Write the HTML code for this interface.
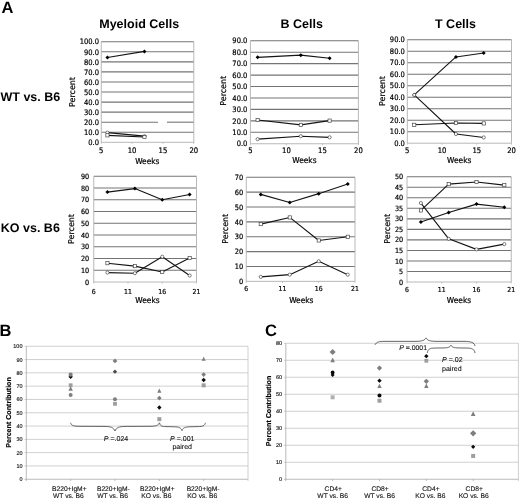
<!DOCTYPE html>
<html lang="en"><head><meta charset="utf-8"><title>Figure</title>
<style>
html,body{margin:0;padding:0;background:#fff;}
body{width:520px;height:500px;overflow:hidden;}
svg{display:block;will-change:transform;text-rendering:geometricPrecision;filter:blur(0.3px);}
.ax{font-family:"DejaVu Sans Condensed", "DejaVu Sans", "Liberation Sans", sans-serif;fill:#000;stroke:#000;stroke-width:0.2px;}
.axr{font-family:"DejaVu Sans", "Liberation Sans", sans-serif;fill:#000;stroke:#000;stroke-width:0.2px;}
.tk{font-family:"DejaVu Sans Condensed", "DejaVu Sans", "Liberation Sans", sans-serif;fill:#000;stroke:#000;stroke-width:0.2px;}
.tt{font-family:"Liberation Sans", Arial, sans-serif;font-size:12.5px;font-weight:bold;fill:#000;}
.pl{font-family:"Liberation Sans", Arial, sans-serif;font-size:16.5px;font-weight:bold;fill:#000;}
.sm{font-family:"Liberation Sans", Arial, sans-serif;font-size:6.7px;fill:#111;stroke:#111;stroke-width:0.12px;}
.st{font-family:"Liberation Sans", Arial, sans-serif;font-size:5.5px;fill:#111;stroke:#111;stroke-width:0.14px;}
.smb{font-family:"Liberation Sans", Arial, sans-serif;font-size:7.1px;font-weight:bold;fill:#000;stroke:#000;stroke-width:0.18px;}
.pv{font-family:"Liberation Sans", Arial, sans-serif;font-size:7.05px;fill:#111;stroke:#111;stroke-width:0.1px;}
</style></head><body>
<svg width="520" height="500" viewBox="0 0 520 500">
<rect width="520" height="500" fill="#fff"/>
<text x="1.5" y="13" class="pl">A</text>
<text x="139.2" y="28" text-anchor="middle" class="tt">Myeloid Cells</text>
<text x="301.7" y="28" text-anchor="middle" class="tt">B Cells</text>
<text x="455.5" y="28" text-anchor="middle" class="tt">T Cells</text>
<text x="0.5" y="100.6" class="tt">WT vs. B6</text>
<text x="0.8" y="232.2" class="tt">KO vs. B6</text>
<line x1="101.25" y1="132.25" x2="193.80" y2="132.25" stroke="#747474" stroke-width="1.1"/>
<line x1="101.25" y1="122.19" x2="158.00" y2="122.19" stroke="#747474" stroke-width="1.1"/>
<line x1="167.00" y1="122.19" x2="193.80" y2="122.19" stroke="#747474" stroke-width="1.1"/>
<line x1="101.25" y1="112.14" x2="193.80" y2="112.14" stroke="#747474" stroke-width="1.1"/>
<line x1="101.25" y1="102.08" x2="193.80" y2="102.08" stroke="#747474" stroke-width="1.1"/>
<line x1="101.25" y1="92.03" x2="193.80" y2="92.03" stroke="#747474" stroke-width="1.1"/>
<line x1="101.25" y1="81.97" x2="193.80" y2="81.97" stroke="#747474" stroke-width="1.1"/>
<line x1="101.25" y1="71.92" x2="193.80" y2="71.92" stroke="#747474" stroke-width="1.1"/>
<line x1="101.25" y1="61.86" x2="193.80" y2="61.86" stroke="#747474" stroke-width="1.1"/>
<line x1="101.25" y1="51.81" x2="193.80" y2="51.81" stroke="#747474" stroke-width="1.1"/>
<line x1="101.25" y1="41.75" x2="193.80" y2="41.75" stroke="#747474" stroke-width="1.1"/>
<path d="M101.25 41.75V142.30H193.80V41.75" fill="none" stroke="#b0b0b0" stroke-width="0.9"/>
<line x1="101.25" y1="142.30" x2="101.25" y2="143.90" stroke="#b0b0b0" stroke-width="0.7"/>
<line x1="132.10" y1="142.30" x2="132.10" y2="143.90" stroke="#b0b0b0" stroke-width="0.7"/>
<line x1="162.95" y1="142.30" x2="162.95" y2="143.90" stroke="#b0b0b0" stroke-width="0.7"/>
<line x1="193.80" y1="142.30" x2="193.80" y2="143.90" stroke="#b0b0b0" stroke-width="0.7"/>
<text x="98.95" y="145.00" text-anchor="end" class="tk" font-size="7.5">0.0</text>
<text x="98.95" y="134.94" text-anchor="end" class="tk" font-size="7.5">10.0</text>
<text x="98.95" y="124.89" text-anchor="end" class="tk" font-size="7.5">20.0</text>
<text x="98.95" y="114.84" text-anchor="end" class="tk" font-size="7.5">30.0</text>
<text x="98.95" y="104.78" text-anchor="end" class="tk" font-size="7.5">40.0</text>
<text x="98.95" y="94.73" text-anchor="end" class="tk" font-size="7.5">50.0</text>
<text x="98.95" y="84.67" text-anchor="end" class="tk" font-size="7.5">60.0</text>
<text x="98.95" y="74.62" text-anchor="end" class="tk" font-size="7.5">70.0</text>
<text x="98.95" y="64.56" text-anchor="end" class="tk" font-size="7.5">80.0</text>
<text x="98.95" y="54.51" text-anchor="end" class="tk" font-size="7.5">90.0</text>
<text x="98.95" y="44.45" text-anchor="end" class="tk" font-size="7.5">100.0</text>
<text x="101.25" y="152.74" text-anchor="middle" class="tk" font-size="7.6">5</text>
<text x="132.10" y="152.74" text-anchor="middle" class="tk" font-size="7.6">10</text>
<text x="162.95" y="152.74" text-anchor="middle" class="tk" font-size="7.6">15</text>
<text x="193.80" y="152.74" text-anchor="middle" class="tk" font-size="7.6">20</text>
<text transform="translate(74.65 92.00) rotate(-90)" text-anchor="middle" class="axr" font-size="8.1" textLength="29.8" lengthAdjust="spacingAndGlyphs">Percent</text>
<text x="147.30" y="163.50" text-anchor="middle" class="axr" font-size="8.1" textLength="24.3" lengthAdjust="spacingAndGlyphs">Weeks</text>
<polyline points="107.42,57.54 144.44,51.40" fill="none" stroke="#141414" stroke-width="1.1" stroke-linejoin="round"/>
<polyline points="107.42,132.65 144.44,136.17" fill="none" stroke="#141414" stroke-width="1.1" stroke-linejoin="round"/>
<polyline points="107.42,135.36 144.44,137.07" fill="none" stroke="#141414" stroke-width="1.1" stroke-linejoin="round"/>
<path d="M107.42 55.54L109.42 57.54L107.42 59.54L105.42 57.54Z" fill="#000"/>
<path d="M144.44 49.40L146.44 51.40L144.44 53.40L142.44 51.40Z" fill="#000"/>
<circle cx="107.42" cy="132.65" r="1.6" fill="#fff" stroke="#3a3a3a" stroke-width="0.65"/>
<circle cx="144.44" cy="136.17" r="1.6" fill="#fff" stroke="#3a3a3a" stroke-width="0.65"/>
<rect x="105.82" y="133.76" width="3.2" height="3.2" fill="#fff" stroke="#3a3a3a" stroke-width="0.65"/>
<rect x="142.84" y="135.47" width="3.2" height="3.2" fill="#fff" stroke="#3a3a3a" stroke-width="0.65"/>
<line x1="250.40" y1="132.31" x2="358.40" y2="132.31" stroke="#747474" stroke-width="1.1"/>
<line x1="250.40" y1="120.86" x2="358.40" y2="120.86" stroke="#747474" stroke-width="1.1"/>
<line x1="250.40" y1="109.42" x2="358.40" y2="109.42" stroke="#747474" stroke-width="1.1"/>
<line x1="250.40" y1="97.97" x2="358.40" y2="97.97" stroke="#747474" stroke-width="1.1"/>
<line x1="250.40" y1="86.53" x2="358.40" y2="86.53" stroke="#747474" stroke-width="1.1"/>
<line x1="250.40" y1="75.08" x2="358.40" y2="75.08" stroke="#747474" stroke-width="1.1"/>
<line x1="250.40" y1="63.64" x2="358.40" y2="63.64" stroke="#747474" stroke-width="1.1"/>
<line x1="250.40" y1="52.19" x2="358.40" y2="52.19" stroke="#747474" stroke-width="1.1"/>
<line x1="250.40" y1="40.75" x2="358.40" y2="40.75" stroke="#747474" stroke-width="1.1"/>
<path d="M250.40 40.75V143.75H358.40V40.75" fill="none" stroke="#b0b0b0" stroke-width="0.9"/>
<line x1="250.40" y1="143.75" x2="250.40" y2="145.35" stroke="#b0b0b0" stroke-width="0.7"/>
<line x1="286.40" y1="143.75" x2="286.40" y2="145.35" stroke="#b0b0b0" stroke-width="0.7"/>
<line x1="322.40" y1="143.75" x2="322.40" y2="145.35" stroke="#b0b0b0" stroke-width="0.7"/>
<line x1="358.40" y1="143.75" x2="358.40" y2="145.35" stroke="#b0b0b0" stroke-width="0.7"/>
<text x="247.40" y="146.45" text-anchor="end" class="tk" font-size="7.5">0.0</text>
<text x="247.40" y="135.01" text-anchor="end" class="tk" font-size="7.5">10.0</text>
<text x="247.40" y="123.56" text-anchor="end" class="tk" font-size="7.5">20.0</text>
<text x="247.40" y="112.12" text-anchor="end" class="tk" font-size="7.5">30.0</text>
<text x="247.40" y="100.67" text-anchor="end" class="tk" font-size="7.5">40.0</text>
<text x="247.40" y="89.23" text-anchor="end" class="tk" font-size="7.5">50.0</text>
<text x="247.40" y="77.78" text-anchor="end" class="tk" font-size="7.5">60.0</text>
<text x="247.40" y="66.34" text-anchor="end" class="tk" font-size="7.5">70.0</text>
<text x="247.40" y="54.89" text-anchor="end" class="tk" font-size="7.5">80.0</text>
<text x="247.40" y="43.45" text-anchor="end" class="tk" font-size="7.5">90.0</text>
<text x="250.40" y="153.04" text-anchor="middle" class="tk" font-size="7.6">5</text>
<text x="286.40" y="153.04" text-anchor="middle" class="tk" font-size="7.6">10</text>
<text x="322.40" y="153.04" text-anchor="middle" class="tk" font-size="7.6">15</text>
<text x="358.40" y="153.04" text-anchor="middle" class="tk" font-size="7.6">20</text>
<text transform="translate(226.35 90.80) rotate(-90)" text-anchor="middle" class="axr" font-size="8.1" textLength="29.8" lengthAdjust="spacingAndGlyphs">Percent</text>
<text x="304.40" y="162.60" text-anchor="middle" class="axr" font-size="8.1" textLength="24.3" lengthAdjust="spacingAndGlyphs">Weeks</text>
<polyline points="257.60,57.34 300.80,55.17 329.60,58.26" fill="none" stroke="#141414" stroke-width="1.1" stroke-linejoin="round"/>
<polyline points="257.60,120.06 300.80,124.87 329.60,120.63" fill="none" stroke="#141414" stroke-width="1.1" stroke-linejoin="round"/>
<polyline points="257.60,139.17 300.80,136.20 329.60,137.34" fill="none" stroke="#141414" stroke-width="1.1" stroke-linejoin="round"/>
<path d="M257.60 55.34L259.60 57.34L257.60 59.34L255.60 57.34Z" fill="#000"/>
<path d="M300.80 53.17L302.80 55.17L300.80 57.17L298.80 55.17Z" fill="#000"/>
<path d="M329.60 56.26L331.60 58.26L329.60 60.26L327.60 58.26Z" fill="#000"/>
<rect x="256.00" y="118.46" width="3.2" height="3.2" fill="#fff" stroke="#3a3a3a" stroke-width="0.65"/>
<rect x="299.20" y="123.27" width="3.2" height="3.2" fill="#fff" stroke="#3a3a3a" stroke-width="0.65"/>
<rect x="328.00" y="119.03" width="3.2" height="3.2" fill="#fff" stroke="#3a3a3a" stroke-width="0.65"/>
<circle cx="257.60" cy="139.17" r="1.6" fill="#fff" stroke="#3a3a3a" stroke-width="0.65"/>
<circle cx="300.80" cy="136.20" r="1.6" fill="#fff" stroke="#3a3a3a" stroke-width="0.65"/>
<circle cx="329.60" cy="137.34" r="1.6" fill="#fff" stroke="#3a3a3a" stroke-width="0.65"/>
<line x1="407.30" y1="131.70" x2="511.50" y2="131.70" stroke="#747474" stroke-width="1.1"/>
<line x1="407.30" y1="120.20" x2="511.50" y2="120.20" stroke="#747474" stroke-width="1.1"/>
<line x1="407.30" y1="108.70" x2="511.50" y2="108.70" stroke="#747474" stroke-width="1.1"/>
<line x1="407.30" y1="97.20" x2="511.50" y2="97.20" stroke="#747474" stroke-width="1.1"/>
<line x1="407.30" y1="85.70" x2="511.50" y2="85.70" stroke="#747474" stroke-width="1.1"/>
<line x1="407.30" y1="74.20" x2="511.50" y2="74.20" stroke="#747474" stroke-width="1.1"/>
<line x1="407.30" y1="62.70" x2="511.50" y2="62.70" stroke="#747474" stroke-width="1.1"/>
<line x1="407.30" y1="51.20" x2="511.50" y2="51.20" stroke="#747474" stroke-width="1.1"/>
<line x1="407.30" y1="39.70" x2="511.50" y2="39.70" stroke="#747474" stroke-width="1.1"/>
<path d="M407.30 39.70V143.20H511.50V39.70" fill="none" stroke="#b0b0b0" stroke-width="0.9"/>
<line x1="407.30" y1="143.20" x2="407.30" y2="144.80" stroke="#b0b0b0" stroke-width="0.7"/>
<line x1="442.03" y1="143.20" x2="442.03" y2="144.80" stroke="#b0b0b0" stroke-width="0.7"/>
<line x1="476.77" y1="143.20" x2="476.77" y2="144.80" stroke="#b0b0b0" stroke-width="0.7"/>
<line x1="511.50" y1="143.20" x2="511.50" y2="144.80" stroke="#b0b0b0" stroke-width="0.7"/>
<text x="404.90" y="145.90" text-anchor="end" class="tk" font-size="7.5">0.0</text>
<text x="404.90" y="134.40" text-anchor="end" class="tk" font-size="7.5">10.0</text>
<text x="404.90" y="122.90" text-anchor="end" class="tk" font-size="7.5">20.0</text>
<text x="404.90" y="111.40" text-anchor="end" class="tk" font-size="7.5">30.0</text>
<text x="404.90" y="99.90" text-anchor="end" class="tk" font-size="7.5">40.0</text>
<text x="404.90" y="88.40" text-anchor="end" class="tk" font-size="7.5">50.0</text>
<text x="404.90" y="76.90" text-anchor="end" class="tk" font-size="7.5">60.0</text>
<text x="404.90" y="65.40" text-anchor="end" class="tk" font-size="7.5">70.0</text>
<text x="404.90" y="53.90" text-anchor="end" class="tk" font-size="7.5">80.0</text>
<text x="404.90" y="42.40" text-anchor="end" class="tk" font-size="7.5">90.0</text>
<text x="407.30" y="153.04" text-anchor="middle" class="tk" font-size="7.6">5</text>
<text x="442.03" y="153.04" text-anchor="middle" class="tk" font-size="7.6">10</text>
<text x="476.77" y="153.04" text-anchor="middle" class="tk" font-size="7.6">15</text>
<text x="511.50" y="153.04" text-anchor="middle" class="tk" font-size="7.6">20</text>
<text transform="translate(385.15 91.00) rotate(-90)" text-anchor="middle" class="axr" font-size="8.1" textLength="29.8" lengthAdjust="spacingAndGlyphs">Percent</text>
<text x="459.20" y="162.60" text-anchor="middle" class="axr" font-size="8.1" textLength="24.3" lengthAdjust="spacingAndGlyphs">Weeks</text>
<polyline points="414.25,94.90 455.93,56.95 483.71,52.92" fill="none" stroke="#141414" stroke-width="1.1" stroke-linejoin="round"/>
<polyline points="414.25,94.90 455.93,134.00 483.71,137.45" fill="none" stroke="#141414" stroke-width="1.1" stroke-linejoin="round"/>
<polyline points="414.25,124.80 455.93,123.07 483.71,123.42" fill="none" stroke="#141414" stroke-width="1.1" stroke-linejoin="round"/>
<path d="M414.25 92.90L416.25 94.90L414.25 96.90L412.25 94.90Z" fill="#000"/>
<path d="M455.93 54.95L457.93 56.95L455.93 58.95L453.93 56.95Z" fill="#000"/>
<path d="M483.71 50.92L485.71 52.92L483.71 54.92L481.71 52.92Z" fill="#000"/>
<circle cx="414.25" cy="94.90" r="1.6" fill="#fff" stroke="#3a3a3a" stroke-width="0.65"/>
<circle cx="455.93" cy="134.00" r="1.6" fill="#fff" stroke="#3a3a3a" stroke-width="0.65"/>
<circle cx="483.71" cy="137.45" r="1.6" fill="#fff" stroke="#3a3a3a" stroke-width="0.65"/>
<rect x="412.65" y="123.20" width="3.2" height="3.2" fill="#fff" stroke="#3a3a3a" stroke-width="0.65"/>
<rect x="454.33" y="121.47" width="3.2" height="3.2" fill="#fff" stroke="#3a3a3a" stroke-width="0.65"/>
<rect x="482.11" y="121.82" width="3.2" height="3.2" fill="#fff" stroke="#3a3a3a" stroke-width="0.65"/>
<line x1="93.75" y1="270.25" x2="196.50" y2="270.25" stroke="#747474" stroke-width="1.1"/>
<line x1="93.75" y1="258.50" x2="196.50" y2="258.50" stroke="#747474" stroke-width="1.1"/>
<line x1="93.75" y1="246.75" x2="196.50" y2="246.75" stroke="#747474" stroke-width="1.1"/>
<line x1="93.75" y1="235.00" x2="196.50" y2="235.00" stroke="#747474" stroke-width="1.1"/>
<line x1="93.75" y1="223.25" x2="196.50" y2="223.25" stroke="#747474" stroke-width="1.1"/>
<line x1="93.75" y1="211.50" x2="196.50" y2="211.50" stroke="#747474" stroke-width="1.1"/>
<line x1="93.75" y1="199.75" x2="196.50" y2="199.75" stroke="#747474" stroke-width="1.1"/>
<line x1="93.75" y1="188.00" x2="196.50" y2="188.00" stroke="#747474" stroke-width="1.1"/>
<line x1="93.75" y1="176.25" x2="196.50" y2="176.25" stroke="#747474" stroke-width="1.1"/>
<path d="M93.75 176.25V282.00H196.50V176.25" fill="none" stroke="#b0b0b0" stroke-width="0.9"/>
<line x1="93.75" y1="282.00" x2="93.75" y2="283.60" stroke="#b0b0b0" stroke-width="0.7"/>
<line x1="128.00" y1="282.00" x2="128.00" y2="283.60" stroke="#b0b0b0" stroke-width="0.7"/>
<line x1="162.25" y1="282.00" x2="162.25" y2="283.60" stroke="#b0b0b0" stroke-width="0.7"/>
<line x1="196.50" y1="282.00" x2="196.50" y2="283.60" stroke="#b0b0b0" stroke-width="0.7"/>
<text x="89.15" y="284.59" text-anchor="end" class="tk" font-size="7.2">0</text>
<text x="89.15" y="272.84" text-anchor="end" class="tk" font-size="7.2">10</text>
<text x="89.15" y="261.09" text-anchor="end" class="tk" font-size="7.2">20</text>
<text x="89.15" y="249.34" text-anchor="end" class="tk" font-size="7.2">30</text>
<text x="89.15" y="237.59" text-anchor="end" class="tk" font-size="7.2">40</text>
<text x="89.15" y="225.84" text-anchor="end" class="tk" font-size="7.2">50</text>
<text x="89.15" y="214.09" text-anchor="end" class="tk" font-size="7.2">60</text>
<text x="89.15" y="202.34" text-anchor="end" class="tk" font-size="7.2">70</text>
<text x="89.15" y="190.59" text-anchor="end" class="tk" font-size="7.2">80</text>
<text x="89.15" y="178.84" text-anchor="end" class="tk" font-size="7.2">90</text>
<text x="93.75" y="293.65" text-anchor="middle" class="tk" font-size="6.8">6</text>
<text x="128.00" y="293.65" text-anchor="middle" class="tk" font-size="6.8">11</text>
<text x="162.25" y="293.65" text-anchor="middle" class="tk" font-size="6.8">16</text>
<text x="196.50" y="293.65" text-anchor="middle" class="tk" font-size="6.8">21</text>
<text transform="translate(74.45 229.00) rotate(-90)" text-anchor="middle" class="axr" font-size="8.1" textLength="29.8" lengthAdjust="spacingAndGlyphs">Percent</text>
<text x="147.50" y="303.40" text-anchor="middle" class="axr" font-size="8.1" textLength="24.3" lengthAdjust="spacingAndGlyphs">Weeks</text>
<polyline points="107.45,192.11 134.85,188.59 162.25,199.75 189.65,194.46" fill="none" stroke="#141414" stroke-width="1.1" stroke-linejoin="round"/>
<polyline points="107.45,263.20 134.85,266.14 162.25,272.01 189.65,257.91" fill="none" stroke="#141414" stroke-width="1.1" stroke-linejoin="round"/>
<polyline points="107.45,272.60 134.85,273.19 162.25,256.74 189.65,275.54" fill="none" stroke="#141414" stroke-width="1.1" stroke-linejoin="round"/>
<path d="M107.45 190.11L109.45 192.11L107.45 194.11L105.45 192.11Z" fill="#000"/>
<path d="M134.85 186.59L136.85 188.59L134.85 190.59L132.85 188.59Z" fill="#000"/>
<path d="M162.25 197.75L164.25 199.75L162.25 201.75L160.25 199.75Z" fill="#000"/>
<path d="M189.65 192.46L191.65 194.46L189.65 196.46L187.65 194.46Z" fill="#000"/>
<rect x="105.85" y="261.60" width="3.2" height="3.2" fill="#fff" stroke="#3a3a3a" stroke-width="0.65"/>
<rect x="133.25" y="264.54" width="3.2" height="3.2" fill="#fff" stroke="#3a3a3a" stroke-width="0.65"/>
<rect x="160.65" y="270.41" width="3.2" height="3.2" fill="#fff" stroke="#3a3a3a" stroke-width="0.65"/>
<rect x="188.05" y="256.31" width="3.2" height="3.2" fill="#fff" stroke="#3a3a3a" stroke-width="0.65"/>
<circle cx="107.45" cy="272.60" r="1.6" fill="#fff" stroke="#3a3a3a" stroke-width="0.65"/>
<circle cx="134.85" cy="273.19" r="1.6" fill="#fff" stroke="#3a3a3a" stroke-width="0.65"/>
<circle cx="162.25" cy="256.74" r="1.6" fill="#fff" stroke="#3a3a3a" stroke-width="0.65"/>
<circle cx="189.65" cy="275.54" r="1.6" fill="#fff" stroke="#3a3a3a" stroke-width="0.65"/>
<line x1="246.25" y1="266.49" x2="355.00" y2="266.49" stroke="#747474" stroke-width="1.1"/>
<line x1="246.25" y1="251.62" x2="355.00" y2="251.62" stroke="#747474" stroke-width="1.1"/>
<line x1="246.25" y1="236.76" x2="355.00" y2="236.76" stroke="#747474" stroke-width="1.1"/>
<line x1="246.25" y1="221.89" x2="355.00" y2="221.89" stroke="#747474" stroke-width="1.1"/>
<line x1="246.25" y1="207.03" x2="355.00" y2="207.03" stroke="#747474" stroke-width="1.1"/>
<line x1="246.25" y1="192.16" x2="355.00" y2="192.16" stroke="#747474" stroke-width="1.1"/>
<line x1="246.25" y1="177.30" x2="355.00" y2="177.30" stroke="#747474" stroke-width="1.1"/>
<path d="M246.25 177.30V281.35H355.00V177.30" fill="none" stroke="#b0b0b0" stroke-width="0.9"/>
<line x1="246.25" y1="281.35" x2="246.25" y2="282.95" stroke="#b0b0b0" stroke-width="0.7"/>
<line x1="282.50" y1="281.35" x2="282.50" y2="282.95" stroke="#b0b0b0" stroke-width="0.7"/>
<line x1="318.75" y1="281.35" x2="318.75" y2="282.95" stroke="#b0b0b0" stroke-width="0.7"/>
<line x1="355.00" y1="281.35" x2="355.00" y2="282.95" stroke="#b0b0b0" stroke-width="0.7"/>
<text x="243.15" y="284.01" text-anchor="end" class="tk" font-size="7.4">0</text>
<text x="243.15" y="269.15" text-anchor="end" class="tk" font-size="7.4">10</text>
<text x="243.15" y="254.29" text-anchor="end" class="tk" font-size="7.4">20</text>
<text x="243.15" y="239.42" text-anchor="end" class="tk" font-size="7.4">30</text>
<text x="243.15" y="224.56" text-anchor="end" class="tk" font-size="7.4">40</text>
<text x="243.15" y="209.69" text-anchor="end" class="tk" font-size="7.4">50</text>
<text x="243.15" y="194.83" text-anchor="end" class="tk" font-size="7.4">60</text>
<text x="243.15" y="179.96" text-anchor="end" class="tk" font-size="7.4">70</text>
<text x="246.25" y="291.45" text-anchor="middle" class="tk" font-size="6.8">6</text>
<text x="282.50" y="291.45" text-anchor="middle" class="tk" font-size="6.8">11</text>
<text x="318.75" y="291.45" text-anchor="middle" class="tk" font-size="6.8">16</text>
<text x="355.00" y="291.45" text-anchor="middle" class="tk" font-size="6.8">21</text>
<text transform="translate(228.15 228.75) rotate(-90)" text-anchor="middle" class="axr" font-size="8.1" textLength="29.8" lengthAdjust="spacingAndGlyphs">Percent</text>
<text x="301.30" y="303.30" text-anchor="middle" class="axr" font-size="8.1" textLength="24.3" lengthAdjust="spacingAndGlyphs">Weeks</text>
<polyline points="260.75,194.39 289.75,202.57 318.75,193.65 347.75,183.99" fill="none" stroke="#141414" stroke-width="1.1" stroke-linejoin="round"/>
<polyline points="260.75,224.12 289.75,217.43 318.75,240.47 347.75,236.76" fill="none" stroke="#141414" stroke-width="1.1" stroke-linejoin="round"/>
<polyline points="260.75,276.89 289.75,274.66 318.75,261.28 347.75,274.66" fill="none" stroke="#141414" stroke-width="1.1" stroke-linejoin="round"/>
<path d="M260.75 192.39L262.75 194.39L260.75 196.39L258.75 194.39Z" fill="#000"/>
<path d="M289.75 200.57L291.75 202.57L289.75 204.57L287.75 202.57Z" fill="#000"/>
<path d="M318.75 191.65L320.75 193.65L318.75 195.65L316.75 193.65Z" fill="#000"/>
<path d="M347.75 181.99L349.75 183.99L347.75 185.99L345.75 183.99Z" fill="#000"/>
<rect x="259.15" y="222.52" width="3.2" height="3.2" fill="#fff" stroke="#3a3a3a" stroke-width="0.65"/>
<rect x="288.15" y="215.83" width="3.2" height="3.2" fill="#fff" stroke="#3a3a3a" stroke-width="0.65"/>
<rect x="317.15" y="238.87" width="3.2" height="3.2" fill="#fff" stroke="#3a3a3a" stroke-width="0.65"/>
<rect x="346.15" y="235.16" width="3.2" height="3.2" fill="#fff" stroke="#3a3a3a" stroke-width="0.65"/>
<circle cx="260.75" cy="276.89" r="1.6" fill="#fff" stroke="#3a3a3a" stroke-width="0.65"/>
<circle cx="289.75" cy="274.66" r="1.6" fill="#fff" stroke="#3a3a3a" stroke-width="0.65"/>
<circle cx="318.75" cy="261.28" r="1.6" fill="#fff" stroke="#3a3a3a" stroke-width="0.65"/>
<circle cx="347.75" cy="274.66" r="1.6" fill="#fff" stroke="#3a3a3a" stroke-width="0.65"/>
<line x1="407.00" y1="271.48" x2="511.25" y2="271.48" stroke="#747474" stroke-width="1.1"/>
<line x1="407.00" y1="260.95" x2="511.25" y2="260.95" stroke="#747474" stroke-width="1.1"/>
<line x1="407.00" y1="250.43" x2="511.25" y2="250.43" stroke="#747474" stroke-width="1.1"/>
<line x1="407.00" y1="239.90" x2="511.25" y2="239.90" stroke="#747474" stroke-width="1.1"/>
<line x1="407.00" y1="229.38" x2="511.25" y2="229.38" stroke="#747474" stroke-width="1.1"/>
<line x1="407.00" y1="218.85" x2="511.25" y2="218.85" stroke="#747474" stroke-width="1.1"/>
<line x1="407.00" y1="208.32" x2="511.25" y2="208.32" stroke="#747474" stroke-width="1.1"/>
<line x1="407.00" y1="197.80" x2="511.25" y2="197.80" stroke="#747474" stroke-width="1.1"/>
<line x1="407.00" y1="187.28" x2="511.25" y2="187.28" stroke="#747474" stroke-width="1.1"/>
<line x1="407.00" y1="176.75" x2="511.25" y2="176.75" stroke="#747474" stroke-width="1.1"/>
<path d="M407.00 176.75V282.00H511.25V176.75" fill="none" stroke="#b0b0b0" stroke-width="0.9"/>
<line x1="407.00" y1="282.00" x2="407.00" y2="283.60" stroke="#b0b0b0" stroke-width="0.7"/>
<line x1="441.75" y1="282.00" x2="441.75" y2="283.60" stroke="#b0b0b0" stroke-width="0.7"/>
<line x1="476.50" y1="282.00" x2="476.50" y2="283.60" stroke="#b0b0b0" stroke-width="0.7"/>
<line x1="511.25" y1="282.00" x2="511.25" y2="283.60" stroke="#b0b0b0" stroke-width="0.7"/>
<text x="403.20" y="284.59" text-anchor="end" class="tk" font-size="7.2">0</text>
<text x="403.20" y="274.07" text-anchor="end" class="tk" font-size="7.2">5</text>
<text x="403.20" y="263.54" text-anchor="end" class="tk" font-size="7.2">10</text>
<text x="403.20" y="253.02" text-anchor="end" class="tk" font-size="7.2">15</text>
<text x="403.20" y="242.49" text-anchor="end" class="tk" font-size="7.2">20</text>
<text x="403.20" y="231.97" text-anchor="end" class="tk" font-size="7.2">25</text>
<text x="403.20" y="221.44" text-anchor="end" class="tk" font-size="7.2">30</text>
<text x="403.20" y="210.92" text-anchor="end" class="tk" font-size="7.2">35</text>
<text x="403.20" y="200.39" text-anchor="end" class="tk" font-size="7.2">40</text>
<text x="403.20" y="189.87" text-anchor="end" class="tk" font-size="7.2">45</text>
<text x="403.20" y="179.34" text-anchor="end" class="tk" font-size="7.2">50</text>
<text x="407.00" y="292.05" text-anchor="middle" class="tk" font-size="6.8">6</text>
<text x="441.75" y="292.05" text-anchor="middle" class="tk" font-size="6.8">11</text>
<text x="476.50" y="292.05" text-anchor="middle" class="tk" font-size="6.8">16</text>
<text x="511.25" y="292.05" text-anchor="middle" class="tk" font-size="6.8">21</text>
<text transform="translate(390.15 228.75) rotate(-90)" text-anchor="middle" class="axr" font-size="8.1" textLength="29.8" lengthAdjust="spacingAndGlyphs">Percent</text>
<text x="459.00" y="303.10" text-anchor="middle" class="axr" font-size="8.1" textLength="24.3" lengthAdjust="spacingAndGlyphs">Weeks</text>
<polyline points="420.90,210.43 448.70,184.12 476.50,182.01 504.30,185.17" fill="none" stroke="#141414" stroke-width="1.1" stroke-linejoin="round"/>
<polyline points="420.90,222.01 448.70,212.53 476.50,204.12 504.30,207.27" fill="none" stroke="#141414" stroke-width="1.1" stroke-linejoin="round"/>
<polyline points="420.90,203.06 448.70,238.85 476.50,249.37 504.30,244.11" fill="none" stroke="#141414" stroke-width="1.1" stroke-linejoin="round"/>
<rect x="419.30" y="208.83" width="3.2" height="3.2" fill="#fff" stroke="#3a3a3a" stroke-width="0.65"/>
<rect x="447.10" y="182.52" width="3.2" height="3.2" fill="#fff" stroke="#3a3a3a" stroke-width="0.65"/>
<rect x="474.90" y="180.41" width="3.2" height="3.2" fill="#fff" stroke="#3a3a3a" stroke-width="0.65"/>
<rect x="502.70" y="183.57" width="3.2" height="3.2" fill="#fff" stroke="#3a3a3a" stroke-width="0.65"/>
<path d="M420.90 220.01L422.90 222.01L420.90 224.01L418.90 222.01Z" fill="#000"/>
<path d="M448.70 210.53L450.70 212.53L448.70 214.53L446.70 212.53Z" fill="#000"/>
<path d="M476.50 202.12L478.50 204.12L476.50 206.12L474.50 204.12Z" fill="#000"/>
<path d="M504.30 205.27L506.30 207.27L504.30 209.27L502.30 207.27Z" fill="#000"/>
<circle cx="420.90" cy="203.06" r="1.6" fill="#fff" stroke="#3a3a3a" stroke-width="0.65"/>
<circle cx="448.70" cy="238.85" r="1.6" fill="#fff" stroke="#3a3a3a" stroke-width="0.65"/>
<circle cx="476.50" cy="249.37" r="1.6" fill="#fff" stroke="#3a3a3a" stroke-width="0.65"/>
<circle cx="504.30" cy="244.11" r="1.6" fill="#fff" stroke="#3a3a3a" stroke-width="0.65"/>
<text x="-0.5" y="336" class="pl">B</text>
<line x1="24.50" y1="479.25" x2="248.00" y2="479.25" stroke="#a8a8a8" stroke-width="0.8"/>
<text x="22.50" y="481.25" text-anchor="end" class="st">0</text>
<line x1="24.50" y1="465.95" x2="248.00" y2="465.95" stroke="#c4c4c4" stroke-width="0.8"/>
<text x="22.50" y="467.95" text-anchor="end" class="st">10</text>
<line x1="24.50" y1="452.65" x2="248.00" y2="452.65" stroke="#c4c4c4" stroke-width="0.8"/>
<text x="22.50" y="454.65" text-anchor="end" class="st">20</text>
<line x1="24.50" y1="439.35" x2="248.00" y2="439.35" stroke="#c4c4c4" stroke-width="0.8"/>
<text x="22.50" y="441.35" text-anchor="end" class="st">30</text>
<line x1="24.50" y1="426.05" x2="248.00" y2="426.05" stroke="#c4c4c4" stroke-width="0.8"/>
<text x="22.50" y="428.05" text-anchor="end" class="st">40</text>
<line x1="24.50" y1="412.75" x2="248.00" y2="412.75" stroke="#c4c4c4" stroke-width="0.8"/>
<text x="22.50" y="414.75" text-anchor="end" class="st">50</text>
<line x1="24.50" y1="399.45" x2="248.00" y2="399.45" stroke="#c4c4c4" stroke-width="0.8"/>
<text x="22.50" y="401.45" text-anchor="end" class="st">60</text>
<line x1="24.50" y1="386.15" x2="248.00" y2="386.15" stroke="#c4c4c4" stroke-width="0.8"/>
<text x="22.50" y="388.15" text-anchor="end" class="st">70</text>
<line x1="24.50" y1="372.85" x2="248.00" y2="372.85" stroke="#c4c4c4" stroke-width="0.8"/>
<text x="22.50" y="374.85" text-anchor="end" class="st">80</text>
<line x1="24.50" y1="359.55" x2="248.00" y2="359.55" stroke="#c4c4c4" stroke-width="0.8"/>
<text x="22.50" y="361.55" text-anchor="end" class="st">90</text>
<line x1="24.50" y1="346.25" x2="248.00" y2="346.25" stroke="#c4c4c4" stroke-width="0.8"/>
<text x="22.50" y="348.25" text-anchor="end" class="st">100</text>
<line x1="26.30" y1="346.25" x2="26.30" y2="481.05" stroke="#a8a8a8" stroke-width="0.8"/>
<line x1="248.00" y1="346.25" x2="248.00" y2="481.05" stroke="#c4c4c4" stroke-width="0.8"/>
<line x1="70.64" y1="479.25" x2="70.64" y2="481.05" stroke="#a8a8a8" stroke-width="0.8"/>
<line x1="114.98" y1="479.25" x2="114.98" y2="481.05" stroke="#a8a8a8" stroke-width="0.8"/>
<line x1="159.32" y1="479.25" x2="159.32" y2="481.05" stroke="#a8a8a8" stroke-width="0.8"/>
<line x1="203.66" y1="479.25" x2="203.66" y2="481.05" stroke="#a8a8a8" stroke-width="0.8"/>
<text transform="translate(10.75 412.50) rotate(-90)" text-anchor="middle" class="smb">Percent Contribution</text>
<text x="69.30" y="491.30" text-anchor="middle" class="sm">B220+IgM+</text>
<text x="68.40" y="498.40" text-anchor="middle" class="sm">WT vs. B6</text>
<text x="113.40" y="491.30" text-anchor="middle" class="sm">B220+IgM-</text>
<text x="112.50" y="498.40" text-anchor="middle" class="sm">WT vs. B6</text>
<text x="157.30" y="491.30" text-anchor="middle" class="sm">B220+IgM+</text>
<text x="156.40" y="498.40" text-anchor="middle" class="sm">KO vs. B6</text>
<text x="203.10" y="491.30" text-anchor="middle" class="sm">B220+IgM-</text>
<text x="202.20" y="498.40" text-anchor="middle" class="sm">KO vs. B6</text>
<path d="M70.64 374.64L72.84 376.84L70.64 379.04L68.44 376.84Z" fill="#0a0a0a"/>
<circle cx="70.64" cy="374.71" r="2.1" fill="#7e7e7e"/>
<rect x="68.74" y="383.32" width="3.8" height="3.8" fill="#9e9e9e"/>
<path d="M70.64 386.34L72.84 390.74L68.44 390.74Z" fill="#7e7e7e"/>
<circle cx="70.64" cy="394.93" r="2.0" fill="#7e7e7e"/>
<path d="M114.98 358.48L117.38 360.88L114.98 363.28L112.58 360.88Z" fill="#7e7e7e"/>
<path d="M114.98 369.45L117.18 371.65L114.98 373.85L112.78 371.65Z" fill="#4a4a4a"/>
<circle cx="114.98" cy="399.32" r="2.0" fill="#7e7e7e"/>
<rect x="113.08" y="401.94" width="3.8" height="3.8" fill="#9e9e9e"/>
<path d="M159.32 388.44L161.42 392.64L157.22 392.64Z" fill="#7e7e7e"/>
<path d="M159.32 395.82L161.62 398.12L159.32 400.42L157.02 398.12Z" fill="#7e7e7e"/>
<path d="M159.32 405.36L161.52 407.56L159.32 409.76L157.12 407.56Z" fill="#0a0a0a"/>
<rect x="157.32" y="417.13" width="4.0" height="4.0" fill="#9e9e9e"/>
<path d="M203.66 356.65L205.76 360.85L201.56 360.85Z" fill="#7e7e7e"/>
<path d="M203.66 372.28L205.96 374.58L203.66 376.88L201.36 374.58Z" fill="#7e7e7e"/>
<path d="M203.66 377.83L205.86 380.03L203.66 382.23L201.46 380.03Z" fill="#0a0a0a"/>
<rect x="201.66" y="383.35" width="4.0" height="4.0" fill="#9e9e9e"/>
<path d="M70.6 422.8 C71.2 425.8 74 426.3 80 426.3 L105 426.4 C111 426.5 113.6 427.6 115 431 C116.4 427.6 119 426.5 125 426.4 L150 426.3 C156 426.2 158.6 425.6 159.2 422.8" fill="none" stroke="#4a4a4a" stroke-width="0.85"/>
<path d="M159.6 422.8 C160.1 426 161.8 426.6 166 426.6 L174 426.8 C179 426.9 181 427.8 182 430.6 C183 427.8 185 426.9 190 426.8 L198 426.6 C202.8 426.5 204.8 425.8 205.4 422.8" fill="none" stroke="#4a4a4a" stroke-width="0.85"/>
<text x="103.8" y="441.4" class="pv"><tspan font-style="italic">P</tspan> =.024</text>
<text x="170" y="440.7" class="pv"><tspan font-style="italic">P</tspan> =.001</text>
<text x="172.4" y="448.9" class="pv">paired</text>
<text x="265.0" y="336" class="pl">C</text>
<line x1="284.00" y1="479.25" x2="518.40" y2="479.25" stroke="#a8a8a8" stroke-width="0.8"/>
<text x="282.00" y="481.25" text-anchor="end" class="st">0</text>
<line x1="284.00" y1="462.25" x2="518.40" y2="462.25" stroke="#c4c4c4" stroke-width="0.8"/>
<text x="282.00" y="464.25" text-anchor="end" class="st">10</text>
<line x1="284.00" y1="445.25" x2="518.40" y2="445.25" stroke="#c4c4c4" stroke-width="0.8"/>
<text x="282.00" y="447.25" text-anchor="end" class="st">20</text>
<line x1="284.00" y1="428.25" x2="518.40" y2="428.25" stroke="#c4c4c4" stroke-width="0.8"/>
<text x="282.00" y="430.25" text-anchor="end" class="st">30</text>
<line x1="284.00" y1="411.25" x2="518.40" y2="411.25" stroke="#c4c4c4" stroke-width="0.8"/>
<text x="282.00" y="413.25" text-anchor="end" class="st">40</text>
<line x1="284.00" y1="394.25" x2="518.40" y2="394.25" stroke="#c4c4c4" stroke-width="0.8"/>
<text x="282.00" y="396.25" text-anchor="end" class="st">50</text>
<line x1="284.00" y1="377.25" x2="518.40" y2="377.25" stroke="#c4c4c4" stroke-width="0.8"/>
<text x="282.00" y="379.25" text-anchor="end" class="st">60</text>
<line x1="284.00" y1="360.25" x2="518.40" y2="360.25" stroke="#c4c4c4" stroke-width="0.8"/>
<text x="282.00" y="362.25" text-anchor="end" class="st">70</text>
<line x1="284.00" y1="343.25" x2="518.40" y2="343.25" stroke="#c4c4c4" stroke-width="0.8"/>
<text x="282.00" y="345.25" text-anchor="end" class="st">80</text>
<line x1="285.80" y1="343.25" x2="285.80" y2="481.05" stroke="#a8a8a8" stroke-width="0.8"/>
<line x1="518.40" y1="343.25" x2="518.40" y2="481.05" stroke="#c4c4c4" stroke-width="0.8"/>
<line x1="332.64" y1="479.25" x2="332.64" y2="481.05" stroke="#a8a8a8" stroke-width="0.8"/>
<line x1="379.48" y1="479.25" x2="379.48" y2="481.05" stroke="#a8a8a8" stroke-width="0.8"/>
<line x1="426.32" y1="479.25" x2="426.32" y2="481.05" stroke="#a8a8a8" stroke-width="0.8"/>
<line x1="473.16" y1="479.25" x2="473.16" y2="481.05" stroke="#a8a8a8" stroke-width="0.8"/>
<text transform="translate(271.25 411.00) rotate(-90)" text-anchor="middle" class="smb">Percent Contribution</text>
<text x="333.20" y="490.90" text-anchor="middle" class="sm">CD4+</text>
<text x="332.70" y="498.30" text-anchor="middle" class="sm">WT vs. B6</text>
<text x="380.10" y="490.90" text-anchor="middle" class="sm">CD8+</text>
<text x="379.60" y="498.30" text-anchor="middle" class="sm">WT vs. B6</text>
<text x="430.90" y="490.90" text-anchor="middle" class="sm">CD4+</text>
<text x="430.40" y="498.30" text-anchor="middle" class="sm">KO vs. B6</text>
<text x="474.20" y="490.90" text-anchor="middle" class="sm">CD8+</text>
<text x="473.70" y="498.30" text-anchor="middle" class="sm">KO vs. B6</text>
<path d="M332.64 348.92L335.64 351.92L332.64 354.92L329.64 351.92Z" fill="#7e7e7e"/>
<path d="M332.64 357.61L334.94 362.21L330.34 362.21Z" fill="#7e7e7e"/>
<circle cx="332.64" cy="372.49" r="1.9" fill="#0a0a0a"/>
<path d="M332.64 373.04L334.64 375.04L332.64 377.04L330.64 375.04Z" fill="#0a0a0a"/>
<rect x="330.64" y="395.31" width="4.0" height="4.0" fill="#b0b0b0"/>
<path d="M379.48 365.47L382.08 368.07L379.48 370.67L376.88 368.07Z" fill="#7e7e7e"/>
<path d="M379.48 378.45L381.68 380.65L379.48 382.85L377.28 380.65Z" fill="#0a0a0a"/>
<path d="M379.48 383.72L381.68 388.12L377.28 388.12Z" fill="#7e7e7e"/>
<circle cx="379.48" cy="395.61" r="2.0" fill="#0a0a0a"/>
<rect x="377.48" y="398.71" width="4.0" height="4.0" fill="#9e9e9e"/>
<path d="M426.32 353.97L428.52 356.17L426.32 358.37L424.12 356.17Z" fill="#0a0a0a"/>
<rect x="424.42" y="358.86" width="3.8" height="3.8" fill="#9e9e9e"/>
<path d="M426.32 378.63L429.02 381.33L426.32 384.03L423.62 381.33Z" fill="#7e7e7e"/>
<path d="M426.32 383.55L428.52 387.95L424.12 387.95Z" fill="#7e7e7e"/>
<path d="M473.16 411.33L475.46 415.93L470.86 415.93Z" fill="#7e7e7e"/>
<path d="M473.16 430.15L476.36 433.35L473.16 436.55L469.96 433.35Z" fill="#7e7e7e"/>
<path d="M473.16 444.68L475.26 446.78L473.16 448.88L471.06 446.78Z" fill="#0a0a0a"/>
<rect x="471.16" y="453.96" width="4.0" height="4.0" fill="#9e9e9e"/>
<path transform="translate(0 0.45)" d="M375 344.4 C376.5 341.4 379 340.9 385 340.9 L416 340.9 C422 340.8 424.8 340 426 337.4 C427.2 340 430 340.8 436 340.9 L464 340.9 C471 341 474.3 342 475 345.6" fill="none" stroke="#4a4a4a" stroke-width="0.85"/>
<path transform="translate(0 0.45)" d="M427.4 352.4 C427.8 348.6 430 347.6 435 347.6 L443 347.5 C448 347.4 450 346.9 451 344.7 C452 346.9 454 347.4 459 347.5 L467 347.6 C472 347.7 474.6 348.8 475 352.6" fill="none" stroke="#4a4a4a" stroke-width="0.85"/>
<text x="399.2" y="350.2" class="pv" style="font-size:6.9px"><tspan font-style="italic">P</tspan> =.0001</text>
<text x="442" y="362.2" class="pv"><tspan font-style="italic">P</tspan> =.02</text>
<text x="442" y="370.6" class="pv">paired</text>
</svg>
</body></html>
